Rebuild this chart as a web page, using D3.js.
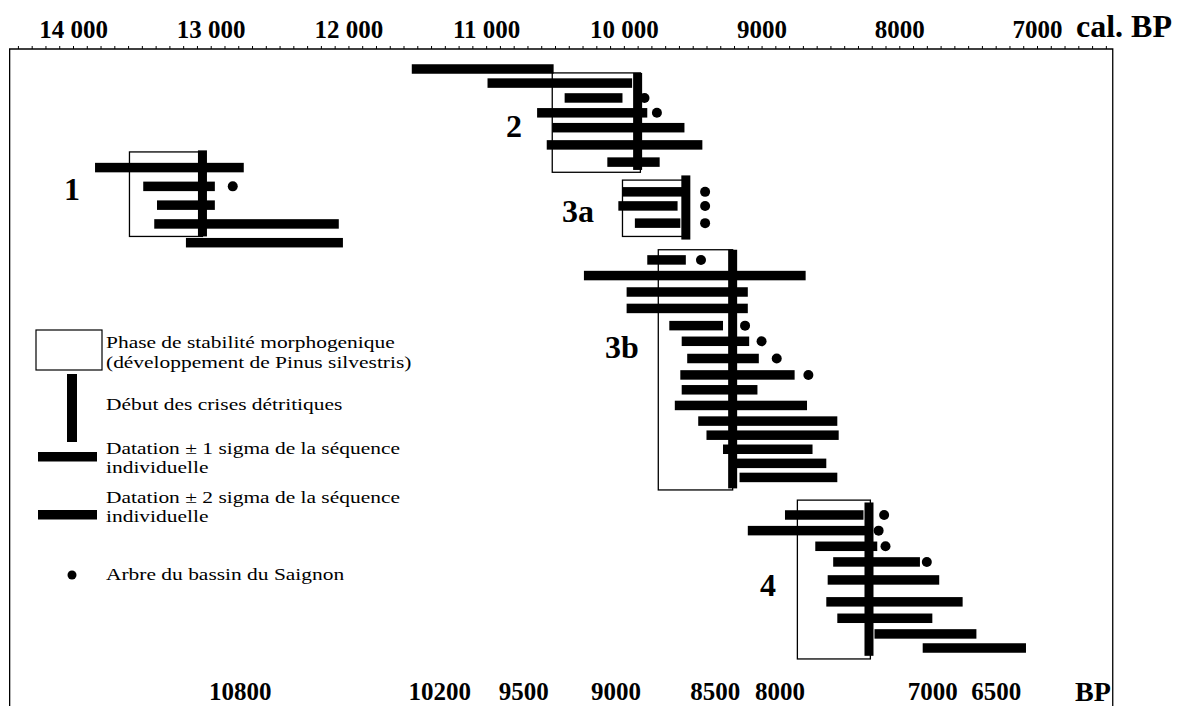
<!DOCTYPE html>
<html lang="fr">
<head>
<meta charset="UTF-8">
<title>Phases de stabilité et crises détritiques</title>
<script src="https://cdn.jsdelivr.net/npm/d3@7"></script>
<style>
    body { margin: 0; background: #fff; }
    svg { display: block; font-family: "Liberation Serif", "Times New Roman", serif; }
</style>
</head>
<body>
<svg width="1182" height="706"></svg>
<script>
    // ---------- data ----------
    // top axis, calibrated years
    const calTicks = [14000, 13000, 12000, 11000, 10000, 9000, 8000, 7000];
    const calTickLabels = ["14 000", "13 000", "12 000", "11 000", "10 000", "9000", "8000", "7000"];
    // bottom axis, radiocarbon years and where they sit on the cal scale
    const bpTicks = [10800, 10200, 9500, 9000, 8500, 8000, 7000, 6500];
    const bpTickCal = [12790, 11340, 10730, 10060, 9340, 8870, 7760, 7300];
    const frameCal = [14460, 6450];

    // dated sequences per phase (row = order in the figure, from/to = cal BP, tree = Saignon tree)
    const phase1 = [
        {row: 6.3, from: 13840, to: 12760},
        {row: 7.5, from: 13490, to: 12970, tree: 12840},
        {row: 8.7, from: 13390, to: 12970},
        {row: 9.9, from: 13410, to: 12070},
        {row: 11.1, from: 13180, to: 12040}
    ];
    const phase2 = [
        {row: 0, from: 11540, to: 10510},
        {row: 0.9, from: 10990, to: 9940},
        {row: 1.85, from: 10430, to: 10010, tree: 9850},
        {row: 2.8, from: 10630, to: 9830, tree: 9760},
        {row: 3.75, from: 10520, to: 9560},
        {row: 4.85, from: 10560, to: 9430},
        {row: 5.95, from: 10120, to: 9740}
    ];
    const phase3a = [
        {row: 7.85, from: 10010, to: 9540, tree: 9410},
        {row: 8.75, from: 10040, to: 9610, tree: 9410},
        {row: 9.85, from: 9920, to: 9590, tree: 9410}
    ];
    const phase3b = [
        {row: 12.2, from: 9830, to: 9550, tree: 9440},
        {row: 13.2, from: 10290, to: 8680},
        {row: 14.25, from: 9980, to: 9100},
        {row: 15.3, from: 9980, to: 9100},
        {row: 16.4, from: 9670, to: 9280, tree: 9120},
        {row: 17.4, from: 9580, to: 9090, tree: 9000},
        {row: 18.5, from: 9540, to: 9020, tree: 8890},
        {row: 19.55, from: 9590, to: 8760, tree: 8660},
        {row: 20.5, from: 9580, to: 9030},
        {row: 21.5, from: 9630, to: 8670},
        {row: 22.5, from: 9460, to: 8450},
        {row: 23.4, from: 9400, to: 8440},
        {row: 24.3, from: 9280, to: 8630},
        {row: 25.2, from: 9210, to: 8530},
        {row: 26.1, from: 9160, to: 8450}
    ];
    const phase4 = [
        {row: 28.5, from: 8830, to: 8260, tree: 8110},
        {row: 29.5, from: 9100, to: 8230, tree: 8150},
        {row: 30.5, from: 8610, to: 8160, tree: 8100},
        {row: 31.5, from: 8480, to: 7850, tree: 7800},
        {row: 32.65, from: 8520, to: 7710},
        {row: 34.05, from: 8530, to: 7540},
        {row: 35.1, from: 8450, to: 7760},
        {row: 36.1, from: 8180, to: 7440},
        {row: 37.0, from: 7830, to: 7080}
    ];

    const phaseNames = ["1", "2", "3a", "3b", "4"];
    const phaseDates = [phase1, phase2, phase3a, phase3b, phase4];
    // phase of morphogenic stability (box)
    const stableFrom = [13590, 10520, 10010, 9750, 8740];
    const stableTo = [13060, 9880, 9540, 9210, 8210];
    const stableRows = [[5.3, 10.7], [0.25, 6.6], [7.1, 10.7], [11.55, 26.9], [27.55, 37.7]];
    // start of the detrital crisis (thick vertical line)
    const crisisStart = [13060, 9900, 9550, 9210, 8220];
    const crisisRows = [[5.2, 10.7], [0.25, 6.45], [6.8, 10.9], [11.55, 26.8], [27.7, 37.5]];

    const legendLabels = [
        ["Phase de stabilité morphogenique", "(développement de Pinus silvestris)"],
        ["Début des crises détritiques"],
        ["Datation \u00b1 1 sigma de la  séquence", "individuelle"],
        ["Datation \u00b1 2 sigma de la  séquence", "individuelle"],
        ["Arbre du bassin du Saignon"]
    ];

    // ---------- scales ----------
    const svg = d3.select("svg");
    const x = d3.scaleLinear().domain([14000, 7000]).range([73, 1037]);
    const y = d3.scaleLinear().domain([0, 37]).range([69, 648]);
    const xBP = d3.scaleLinear().domain(bpTicks).range(bpTickCal.map(x));

    const lineY = 49;
    const barH = 9.5, crisisW = 9, dotR = 5;

    // frame
    svg.append("path")
        .attr("d", `M${x(frameCal[0])},706V${lineY}H${x(frameCal[1])}V706`)
        .attr("fill", "none")
        .attr("stroke", "#000")
        .attr("stroke-width", 1.3);

    // minor ticks on the top line
    const minor = d3.range(6500, 14500, 100).filter(d => d <= frameCal[0] && d >= frameCal[1]);
    svg.append("g").attr("transform", `translate(0,${lineY})`)
        .call(d3.axisTop(x).tickValues(minor).tickFormat("").tickSize(3))
        .call(g => g.select(".domain").remove())
        .selectAll("line").attr("stroke-width", 1);

    // top labels
    svg.append("g").attr("transform", `translate(0,${lineY})`)
        .call(d3.axisTop(x).tickValues(calTicks).tickFormat((d, i) => calTickLabels[i]).tickSize(0).tickPadding(11))
        .call(g => g.select(".domain").remove())
        .selectAll("text")
        .attr("fill", "#000")
        .style("font-family", "'Liberation Serif', serif")
        .style("font-size", "25px")
        .style("font-weight", "bold");

    svg.append("text")
        .attr("x", 1076).attr("y", 37)
        .style("font-size", "32px")
        .style("font-weight", "bold")
        .text("cal. BP");

    // bottom labels (radiocarbon years)
    svg.append("g").attr("transform", "translate(0,682)")
        .call(d3.axisBottom(xBP).tickValues(bpTicks).tickFormat(d3.format("d")).tickSize(0).tickPadding(0))
        .call(g => g.select(".domain").remove())
        .selectAll("text")
        .attr("fill", "#000")
        .style("font-family", "'Liberation Serif', serif")
        .style("font-size", "25px")
        .style("font-weight", "bold");

    svg.append("text")
        .attr("x", 1075).attr("y", 701)
        .style("font-size", "28px")
        .style("font-weight", "bold")
        .text("BP");

    // phases
    const phases = svg.append("g").selectAll("g")
        .data(phaseNames)
        .join("g");

    phases.append("rect")
        .attr("x", (d, i) => x(stableFrom[i]))
        .attr("width", (d, i) => x(stableTo[i]) - x(stableFrom[i]))
        .attr("y", (d, i) => y(stableRows[i][0]))
        .attr("height", (d, i) => y(stableRows[i][1]) - y(stableRows[i][0]))
        .attr("fill", "none")
        .attr("stroke", "#000")
        .attr("stroke-width", 1.3);

    phases.selectAll("rect.bar")
        .data((d, i) => phaseDates[i])
        .join("rect")
        .attr("class", "bar")
        .attr("x", d => x(d.from))
        .attr("width", d => x(d.to) - x(d.from))
        .attr("y", d => y(d.row) - barH / 2)
        .attr("height", barH)
        .attr("fill", "#000");

    phases.append("rect")
        .attr("x", (d, i) => x(crisisStart[i]) - crisisW / 2)
        .attr("width", crisisW)
        .attr("y", (d, i) => y(crisisRows[i][0]))
        .attr("height", (d, i) => y(crisisRows[i][1]) - y(crisisRows[i][0]))
        .attr("fill", "#000");

    phases.selectAll("circle")
        .data((d, i) => phaseDates[i].filter(r => r.tree))
        .join("circle")
        .attr("cx", d => x(d.tree))
        .attr("cy", d => y(d.row))
        .attr("r", dotR)
        .attr("fill", "#000");

    // phase numbers
    const labelAt = [[72, 189], [514, 126], [578, 211], [622, 347], [768, 585]];
    phases.append("text")
        .attr("x", (d, i) => labelAt[i][0])
        .attr("y", (d, i) => labelAt[i][1] + 11)
        .attr("text-anchor", "middle")
        .style("font-size", "32px")
        .style("font-weight", "bold")
        .text(d => d);

    // ---------- legend ----------
    const legend = svg.append("g");
    legend.append("rect")
        .attr("x", 36).attr("y", 330).attr("width", 66).attr("height", 40)
        .attr("fill", "none").attr("stroke", "#000").attr("stroke-width", 1.2);
    legend.append("rect")
        .attr("x", 67).attr("y", 374).attr("width", 10).attr("height", 68)
        .attr("fill", "#000");
    legend.append("rect")
        .attr("x", 38).attr("y", 452).attr("width", 59).attr("height", barH)
        .attr("fill", "#000");
    legend.append("rect")
        .attr("x", 38).attr("y", 510).attr("width", 59).attr("height", barH)
        .attr("fill", "#000");
    legend.append("circle")
        .attr("cx", 72).attr("cy", 575).attr("r", 4.5)
        .attr("fill", "#000");

    // the scanned lettering of the legend is wide
    const legendBase = [[348, 368], [410], [454, 473], [503, 522], [580]];
    legendLabels.forEach(function (lines, i) {
        lines.forEach(function (line, j) {
            legend.append("text")
                .attr("transform", `translate(106,${legendBase[i][j]}) scale(1.3,1)`)
                .style("font-size", "16.5px")
                .text(line);
        });
    });
</script>
</body>
</html>
